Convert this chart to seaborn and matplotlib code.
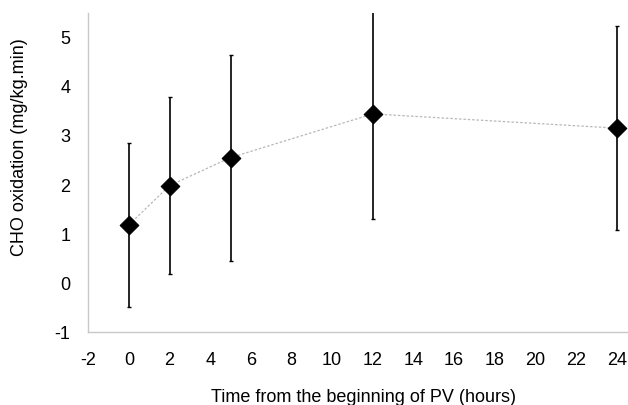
import matplotlib
matplotlib.use("Agg")
import matplotlib.pyplot as plt
import seaborn as sns
import pandas as pd
import numpy as np

hours = [0, 2, 5, 12, 24]
cho_mean = [1.19, 1.99, 2.56, 3.45, 3.16]
cho_err = [1.67, 1.81, 2.10, 2.14, 2.08]

x_ticks = list(range(-2, 25, 2))
y_ticks = [-1, 0, 1, 2, 3, 4, 5]

sns.set_theme(style="white")
plt.rcParams['font.family'] = ['Liberation Sans', 'DejaVu Sans']

df = pd.DataFrame({"hours": hours, "cho": cho_mean, "err": cho_err})

fig = plt.figure(figsize=(6.28, 4.05), dpi=100)
ax = fig.add_axes([88.3/628, 1-332.3/405, (626.8-88.3)/628, (332.3-13.3)/405])

sns.lineplot(data=df, x="hours", y="cho", ax=ax, color="#b8b8b8",
             linestyle=(0, (2, 1.5)), linewidth=0.9, zorder=1)
ax.errorbar(df["hours"], df["cho"], yerr=df["err"], fmt="none",
            ecolor="black", elinewidth=1.2, capsize=1.2, capthick=1.0, zorder=2)
sns.scatterplot(data=df, x="hours", y="cho", ax=ax, marker="D", s=90,
                color="black", edgecolor="black", zorder=3)

ax.set_xlim(-2, 24.5)
ax.set_ylim(-1, 5.5)
ax.set_xticks(x_ticks)
ax.set_yticks(y_ticks)
ax.set_xticklabels([str(t) for t in x_ticks])
ax.set_yticklabels([str(t) for t in y_ticks])

for side in ["top", "right"]:
    ax.spines[side].set_visible(False)
for side in ["left", "bottom"]:
    ax.spines[side].set_color("#c8c8c8")
    ax.spines[side].set_linewidth(1.0)

ax.tick_params(axis="both", which="major", direction="out", length=4,
               width=1.0, color="#c8c8c8", labelsize=13, labelcolor="black")
ax.tick_params(axis="x", pad=10)
ax.tick_params(axis="y", pad=9)

ax.set_xlabel("")
ax.set_ylabel("")
fig.text(363.5/628, 1-397/405, "Time from the beginning of PV (hours)",
         ha="center", va="center", fontsize=13, color="black")
fig.text(20/628, 1-147.5/405, "CHO oxidation (mg/kg.min)", rotation=90,
         ha="center", va="center", fontsize=13, color="black")

fig.savefig("out.png", dpi=100)
